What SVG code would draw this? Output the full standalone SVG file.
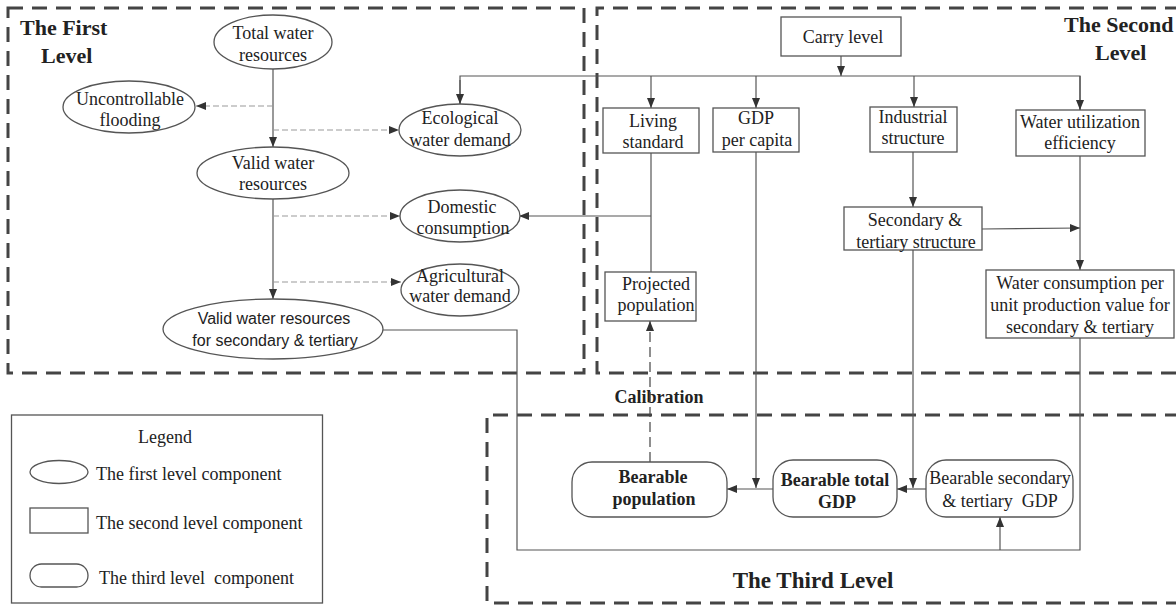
<svg xmlns="http://www.w3.org/2000/svg" width="1176" height="606" viewBox="0 0 1176 606">
<style>
text{font-family:"Liberation Serif","Times New Roman",serif;font-size:18px;fill:#222;text-anchor:middle}
.sans{font-family:"Liberation Sans",Arial,sans-serif;font-size:16px}
.b{font-weight:bold}
.title{font-weight:bold;font-size:22px;text-anchor:start}
.lvl{fill:none;stroke:#444;stroke-width:3;stroke-dasharray:15 9}
.n{fill:#fff;stroke:#555;stroke-width:1.3}
.c{fill:none;stroke:#555;stroke-width:1.2}
.d{fill:none;stroke:#999;stroke-width:1.2;stroke-dasharray:6 3}
.cal{fill:none;stroke:#444;stroke-width:1.2;stroke-dasharray:10 5}
</style>
<defs>
<marker id="ah" viewBox="0 0 10 8" refX="10" refY="4" markerWidth="10" markerHeight="8" markerUnits="userSpaceOnUse" orient="auto">
<path d="M0,0 L10,4 L0,8 Z" fill="#333"/>
</marker>
</defs>
<rect width="1176" height="606" fill="#fff"/>
<g id="levels">
<rect class="lvl" x="8" y="8" width="576" height="365"/>
<path class="lvl" d="M1180,8 H597 V373 H1180"/>
<path class="lvl" d="M1180,415 H487 V603 H1180"/>
<text class="title" x="20" y="35">The First</text>
<text class="title" x="41" y="63">Level</text>
<text class="title" x="1064" y="32">The Second</text>
<text class="title" x="1095" y="60">Level</text>
<text class="b" x="813" y="588" style="font-size:23px">The Third Level</text>
<text class="b" x="659" y="403">Calibration</text>
</g>
<g id="connectors">
<path class="c" d="M273,68 V147" marker-end="url(#ah)"/>
<path class="c" d="M273,199 V299" marker-end="url(#ah)"/>
<path class="d" d="M273,106 H196" marker-end="url(#ah)"/>
<path class="d" d="M273,130 H399" marker-end="url(#ah)"/>
<path class="d" d="M273,216 H400" marker-end="url(#ah)"/>
<path class="d" d="M273,282 H401" marker-end="url(#ah)"/>
<path class="c" d="M841,56 V76" marker-end="url(#ah)"/>
<path class="c" d="M460,104 V76 H1080 V110"/>
<path class="c" d="M460,80 V104" marker-end="url(#ah)"/>
<path class="c" d="M651,76 V108" marker-end="url(#ah)"/>
<path class="c" d="M756,76 V108" marker-end="url(#ah)"/>
<path class="c" d="M914,76 V107" marker-end="url(#ah)"/>
<path class="c" d="M1080,76 V110" marker-end="url(#ah)"/>
<path class="c" d="M651,153 V272"/>
<path class="c" d="M651,216 H519" marker-end="url(#ah)"/>
<path class="cal" d="M650,462 V321" marker-end="url(#ah)"/>
<path class="c" d="M913,152 V207" marker-end="url(#ah)"/>
<path class="c" d="M982,229 L1080,228" marker-end="url(#ah)"/>
<path class="c" d="M1080,156 V270" marker-end="url(#ah)"/>
<path class="c" d="M756,152 V488" marker-end="url(#ah)"/>
<path class="c" d="M913,250 V488" marker-end="url(#ah)"/>
<path class="c" d="M926,489 H897" marker-end="url(#ah)"/>
<path class="c" d="M773,489 H727" marker-end="url(#ah)"/>
<path class="c" d="M383,330 H517 V550 H1080 V338"/>
<path class="c" d="M1000,550 V517" marker-end="url(#ah)"/>
</g>
<g id="total-water">
<ellipse class="n" cx="273" cy="42" rx="59" ry="27"/>
<text x="273" y="39">Total water</text>
<text x="273" y="61">resources</text>
</g>
<g id="uncontrollable">
<ellipse class="n" cx="129" cy="107" rx="66" ry="26"/>
<text x="130" y="105">Uncontrollable</text>
<text x="130" y="126">flooding</text>
</g>
<g id="ecological">
<ellipse class="n" cx="460" cy="130" rx="61" ry="26"/>
<text x="460" y="124">Ecological</text>
<text x="460" y="146">water demand</text>
</g>
<g id="valid-water">
<ellipse class="n" cx="273" cy="173" rx="76" ry="26"/>
<text x="273" y="169">Valid water</text>
<text x="273" y="190">resources</text>
</g>
<g id="domestic">
<ellipse class="n" cx="460" cy="216" rx="60" ry="26"/>
<text x="462" y="213">Domestic</text>
<text x="463" y="234">consumption</text>
</g>
<g id="agricultural">
<ellipse class="n" cx="460" cy="290" rx="59" ry="26"/>
<text x="460" y="282">Agricultural</text>
<text x="460" y="302">water demand</text>
</g>
<g id="valid-sec">
<ellipse class="n" cx="273" cy="329" rx="110" ry="30"/>
<text class="sans" x="274" y="324">Valid water resources</text>
<text class="sans" x="275" y="346">for secondary &amp; tertiary</text>
</g>
<g id="carry-level">
<rect class="n" x="781" y="17" width="120" height="39"/>
<text x="843" y="43">Carry level</text>
</g>
<g id="living-standard">
<rect class="n" x="603" y="108" width="96" height="45"/>
<text x="653" y="127">Living</text>
<text x="653" y="148">standard</text>
</g>
<g id="gdp-per-capita">
<rect class="n" x="713" y="108" width="86" height="44"/>
<text x="756" y="124">GDP</text>
<text x="757" y="146">per capita</text>
</g>
<g id="industrial-structure">
<rect class="n" x="870" y="107" width="87" height="45"/>
<text x="913" y="123">Industrial</text>
<text x="913" y="144">structure</text>
</g>
<g id="water-utilization">
<rect class="n" x="1016" y="110" width="129" height="46"/>
<text x="1080" y="128">Water utilization</text>
<text x="1080" y="149">efficiency</text>
</g>
<g id="sec-tert-structure">
<rect class="n" x="844" y="207" width="138" height="43"/>
<text x="915" y="226">Secondary &amp;</text>
<text x="916" y="248">tertiary structure</text>
</g>
<g id="projected-population">
<rect class="n" x="605" y="272" width="91" height="49"/>
<text x="656" y="290">Projected</text>
<text x="656" y="311">population</text>
</g>
<g id="water-consumption">
<rect class="n" x="986" y="270" width="188" height="68"/>
<text x="1080" y="289">Water consumption per</text>
<text x="1080" y="311">unit production value for</text>
<text x="1080" y="333">secondary &amp; tertiary</text>
</g>
<g id="bearable-population">
<rect class="n" x="572" y="462" width="155" height="55" rx="20"/>
<text class="b" x="653" y="483">Bearable</text>
<text class="b" x="654" y="505">population</text>
</g>
<g id="bearable-total-gdp">
<rect class="n" x="773" y="460" width="124" height="57" rx="20"/>
<text class="b" x="835" y="486">Bearable total</text>
<text class="b" x="837" y="508">GDP</text>
</g>
<g id="bearable-sec-gdp">
<rect class="n" x="926" y="460" width="147" height="57" rx="20"/>
<text x="1000" y="484">Bearable secondary</text>
<text x="1000" y="507" style="white-space:pre">&amp; tertiary  GDP</text>
</g>
<g id="legend">
<rect x="11.5" y="415" width="311" height="188" fill="#fff" stroke="#555" stroke-width="1.3"/>
<text x="165" y="443">Legend</text>
<ellipse class="n" cx="59" cy="472" rx="29" ry="11.5"/>
<text x="96" y="480" style="text-anchor:start">The first level component</text>
<rect class="n" x="30" y="508" width="58" height="25"/>
<text x="96" y="529" style="text-anchor:start">The second level component</text>
<rect class="n" x="30" y="564" width="58" height="23" rx="11.5"/>
<text x="99" y="584" style="text-anchor:start;white-space:pre">The third level  component</text>
</g>
</svg>
